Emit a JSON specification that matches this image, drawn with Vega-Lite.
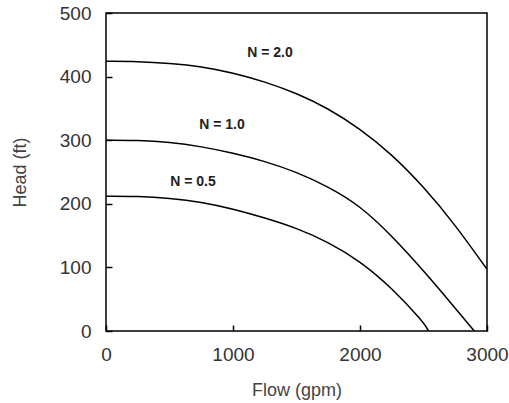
{
  "$schema": "https://vega.github.io/schema/vega-lite/v6.json",
  "autosize": "none",
  "padding": {"left": 106, "top": 13, "right": 22, "bottom": 72},
  "width": 381,
  "height": 318,
  "background": "white",
  "config": {
    "view": {"stroke": "black", "strokeWidth": 1.5},
    "font": "Liberation Sans"
  },
  "datasets": {
    "curves": [
      {"N": "2.0", "Q": 0, "H": 424}, {"N": "2.0", "Q": 250, "H": 424}, {"N": "2.0", "Q": 500, "H": 421},
      {"N": "2.0", "Q": 750, "H": 416}, {"N": "2.0", "Q": 1000, "H": 406}, {"N": "2.0", "Q": 1250, "H": 392},
      {"N": "2.0", "Q": 1500, "H": 374}, {"N": "2.0", "Q": 1750, "H": 350}, {"N": "2.0", "Q": 2000, "H": 318},
      {"N": "2.0", "Q": 2250, "H": 278}, {"N": "2.0", "Q": 2500, "H": 227}, {"N": "2.0", "Q": 2750, "H": 167},
      {"N": "2.0", "Q": 3000, "H": 97},
      {"N": "1.0", "Q": 0, "H": 300}, {"N": "1.0", "Q": 250, "H": 300}, {"N": "1.0", "Q": 500, "H": 297},
      {"N": "1.0", "Q": 750, "H": 290}, {"N": "1.0", "Q": 1000, "H": 280}, {"N": "1.0", "Q": 1250, "H": 267},
      {"N": "1.0", "Q": 1500, "H": 250}, {"N": "1.0", "Q": 1750, "H": 227}, {"N": "1.0", "Q": 2000, "H": 197},
      {"N": "1.0", "Q": 2250, "H": 150}, {"N": "1.0", "Q": 2500, "H": 95}, {"N": "1.0", "Q": 2750, "H": 36},
      {"N": "1.0", "Q": 2900, "H": 0},
      {"N": "0.5", "Q": 0, "H": 212}, {"N": "0.5", "Q": 250, "H": 212}, {"N": "0.5", "Q": 500, "H": 209},
      {"N": "0.5", "Q": 750, "H": 203}, {"N": "0.5", "Q": 1000, "H": 192}, {"N": "0.5", "Q": 1250, "H": 178},
      {"N": "0.5", "Q": 1500, "H": 162}, {"N": "0.5", "Q": 1750, "H": 140}, {"N": "0.5", "Q": 2000, "H": 110},
      {"N": "0.5", "Q": 2250, "H": 68}, {"N": "0.5", "Q": 2500, "H": 14}, {"N": "0.5", "Q": 2540, "H": 0}
    ],
    "labels": [
      {"Q": 1291, "H": 437, "label": "N = 2.0"},
      {"Q": 913, "H": 324, "label": "N = 1.0"},
      {"Q": 685, "H": 234, "label": "N = 0.5"}
    ]
  },
  "layer": [
    {
      "data": {"name": "curves"},
      "mark": {"type": "line", "color": "black", "strokeWidth": 1.5, "interpolate": "basis", "clip": true},
      "encoding": {
        "x": {
          "field": "Q", "type": "quantitative",
          "scale": {"domain": [0, 3000], "nice": false},
          "axis": {
            "title": "Flow (gpm)", "values": [0, 1000, 2000, 3000], "format": "d",
            "domain": false, "grid": false,
            "tickSize": -6, "tickColor": "black", "tickWidth": 1.5,
            "labelFontSize": 19, "labelColor": "#333", "labelPadding": 20,
            "labelFont": "Liberation Sans", "labelFlush": false,
            "titleFontSize": 18, "titleColor": "#444", "titleFontWeight": "normal",
            "titleFont": "Liberation Sans",
            "titleX": 190.5, "titleY": 59, "titleBaseline": "middle", "titleAlign": "center"
          }
        },
        "y": {
          "field": "H", "type": "quantitative",
          "scale": {"domain": [0, 500], "nice": false},
          "axis": {
            "title": "Head (ft)", "values": [0, 100, 200, 300, 400, 500], "format": "d",
            "domain": false, "grid": false,
            "tickSize": -6, "tickColor": "black", "tickWidth": 1.5,
            "labelFontSize": 19, "labelColor": "#333", "labelPadding": 21,
            "labelFont": "Liberation Sans", "labelFlush": false,
            "titleFontSize": 18, "titleColor": "#444", "titleFontWeight": "normal",
            "titleFont": "Liberation Sans",
            "titleX": -86, "titleY": 159, "titleBaseline": "middle", "titleAlign": "center", "titleAngle": -90
          }
        },
        "detail": {"field": "N", "type": "nominal"}
      }
    },
    {
      "data": {"name": "labels"},
      "mark": {"type": "text", "font": "Liberation Sans", "fontWeight": "bold", "fontSize": 14, "color": "#222", "align": "center", "baseline": "middle"},
      "encoding": {
        "x": {"field": "Q", "type": "quantitative"},
        "y": {"field": "H", "type": "quantitative"},
        "text": {"field": "label"}
      }
    }
  ]
}
